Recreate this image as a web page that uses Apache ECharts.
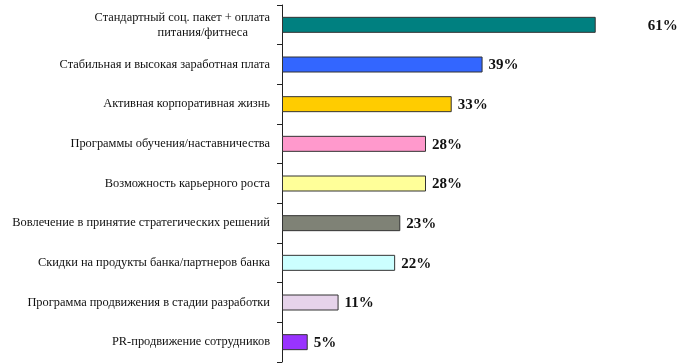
<!DOCTYPE html>
<html><head><meta charset="utf-8">
<script src="https://cdn.jsdelivr.net/npm/echarts@6/dist/echarts.min.js"></script>
<style>html,body{margin:0;padding:0;background:#fff}#c{width:700px;height:363px}</style>
</head><body><div id="c"></div>
<script>
const categories = [
  "Стандартный соц. пакет + оплата\nпитания/фитнеса",
  "Стабильная и высокая заработная плата",
  "Активная корпоративная жизнь",
  "Программы обучения/наставничества",
  "Возможность карьерного роста",
  "Вовлечение в принятие стратегических решений",
  "Скидки на продукты банка/партнеров банка",
  "Программа продвижения в стадии разработки",
  "PR-продвижение сотрудников"
];
const values = [61, 39, 33, 28, 28, 23, 22, 11, 5];
const colors = ["#008080", "#3366ff", "#ffcc00", "#ff99cc", "#ffff99", "#7f8276", "#ccffff", "#e6d3ea", "#9933ff"];

const chart = echarts.init(document.getElementById('c'));
const data = values.map((v, i) => ({
  value: v,
  itemStyle: { color: colors[i] },
  label: i === 0 ? { distance: 52 } : {}
}));
chart.setOption({
  animation: false,
  grid: { left: 282, top: 5, bottom: 1, right: 58, containLabel: false },
  xAxis: { type: 'value', min: 0, max: 70, show: false },
  yAxis: {
    type: 'category', inverse: true, data: categories,
    axisLine: { lineStyle: { color: '#222', width: 1 } },
    axisTick: { show: true, length: 5, lineStyle: { color: '#222' } },
    axisLabel: {
      margin: 12, color: '#111', fontFamily: 'Liberation Serif', fontSize: 12.4,
      formatter: function (v) {
        const parts = v.split('\n');
        if (parts.length === 1) return '{a|' + v + '}';
        return '{a|' + parts[0] + '}\n{b|' + parts[1] + '}';
      },
      rich: {
        a: { fontFamily: 'Liberation Serif', fontSize: 12.4, color: '#111', lineHeight: 15 },
        b: { fontFamily: 'Liberation Serif', fontSize: 12.4, color: '#111', lineHeight: 15, padding: [0, 22, 0, 0] }
      }
    }
  },
  series: [{
    type: 'bar', data: data, barWidth: 16,
    itemStyle: { borderColor: '#333', borderWidth: 1 },
    label: {
      show: true, position: 'right', distance: 6,
      formatter: '{c}%', fontFamily: 'Liberation Serif', fontWeight: 'bold',
      fontSize: 15, color: '#111', offset: [0, 1]
    }
  }]
});
</script></body></html>
